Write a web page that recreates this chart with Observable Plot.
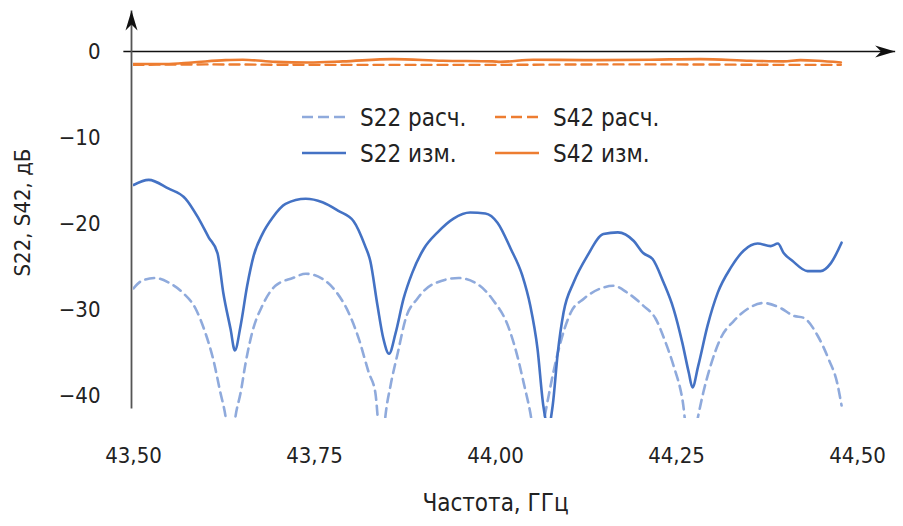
<!DOCTYPE html>
<html><head><meta charset="utf-8">
<script src="https://cdn.jsdelivr.net/npm/d3@7"></script>
<script src="https://cdn.jsdelivr.net/npm/@observablehq/plot@0.6"></script>
<style>
body{margin:0;background:#fff}
#wrap{position:relative;width:903px;height:526px;font-family:"Liberation Sans Narrow","DejaVu Sans Condensed","Roboto Condensed","Liberation Sans",sans-serif;}
#legend{position:absolute;left:0;top:0;pointer-events:none}
</style></head><body>
<div id="wrap"></div>
<script>
// ---- data (frequency, GHz / level, dB) ----
const s22MeasFreq = [43.500,43.521,43.548,43.572,43.590,43.604,43.616,43.624,43.634,43.640,43.648,43.657,43.666,43.678,43.692,43.710,43.738,43.761,43.783,43.804,43.820,43.827,43.837,43.845,43.853,43.862,43.873,43.885,43.901,43.920,43.942,43.965,43.986,44.003,44.021,44.037,44.048,44.058,44.066,44.073,44.079,44.086,44.094,44.108,44.127,44.149,44.169,44.191,44.204,44.217,44.232,44.246,44.258,44.267,44.272,44.280,44.293,44.307,44.325,44.343,44.362,44.380,44.390,44.398,44.410,44.431,44.449,44.463,44.478];
const s22Meas     = [-15.5,-14.9,-15.9,-17.1,-19.4,-21.6,-23.4,-28.0,-32.2,-34.7,-31.8,-27.2,-23.7,-21.2,-19.3,-17.7,-17.1,-17.5,-18.5,-19.7,-22.6,-24.3,-29.5,-33.3,-35.1,-32.7,-28.7,-25.7,-22.9,-21.0,-19.4,-18.7,-18.8,-19.9,-22.9,-26.0,-29.5,-34.5,-41.1,-43.6,-41.1,-35.0,-30.3,-26.8,-23.7,-21.2,-21.0,-22.0,-23.4,-24.1,-26.8,-29.9,-33.8,-37.3,-39.0,-36.5,-31.8,-28.0,-25.1,-23.1,-22.3,-22.6,-22.3,-23.4,-24.3,-25.5,-25.5,-24.6,-22.2];

const s22CalcFreq = [43.500,43.512,43.530,43.548,43.568,43.586,43.599,43.610,43.620,43.627,43.634,43.641,43.648,43.655,43.664,43.678,43.696,43.720,43.738,43.761,43.779,43.797,43.811,43.825,43.834,43.843,43.848,43.855,43.865,43.876,43.892,43.914,43.949,43.975,43.997,44.017,44.030,44.039,44.048,44.058,44.069,44.086,44.104,44.122,44.149,44.163,44.182,44.204,44.221,44.235,44.246,44.258,44.269,44.280,44.287,44.297,44.311,44.329,44.348,44.370,44.394,44.412,44.425,44.445,44.460,44.472,44.478];
const s22Calc     = [-27.5,-26.6,-26.3,-26.8,-28.0,-29.9,-32.6,-35.7,-39.6,-42.3,-47.0,-42.3,-39.6,-36.1,-32.6,-29.5,-27.2,-26.3,-25.8,-26.4,-27.8,-30.3,-33.3,-37.3,-39.6,-47.0,-42.3,-38.8,-35.0,-31.0,-28.7,-27.0,-26.3,-27.0,-28.9,-31.8,-35.3,-38.5,-41.9,-47.0,-41.9,-35.0,-30.3,-28.7,-27.4,-27.2,-28.0,-29.5,-31.0,-33.8,-36.5,-40.3,-47.0,-42.3,-39.6,-36.5,-33.3,-31.3,-29.9,-29.2,-29.8,-30.7,-30.9,-33.0,-35.7,-38.5,-41.1];

const s42MeasFreq = [43.500,43.544,43.581,43.627,43.651,43.696,43.742,43.789,43.858,43.927,43.996,44.007,44.052,44.122,44.214,44.283,44.352,44.398,44.421,44.445,44.477];
const s42Meas     = [-1.45,-1.45,-1.27,-1.0,-0.95,-1.2,-1.27,-1.15,-0.88,-1.07,-1.15,-1.2,-0.95,-1.0,-0.95,-0.88,-1.07,-1.15,-1.0,-1.07,-1.27];

const s42CalcFreq = [43.500,43.600,43.750,43.900,44.000,44.150,44.250,44.400,44.477];
const s42Calc     = [-1.55,-1.50,-1.55,-1.55,-1.55,-1.50,-1.50,-1.55,-1.55];

const seriesNames = ["S22 расч.", "S22 изм.", "S42 расч.", "S42 изм."];
const xTicks = [43.5, 43.75, 44.0, 44.25, 44.5];
const yTicks = [0, -10, -20, -30, -40];
const xLabel = "Частота, ГГц";
const yLabel = "S22, S42, дБ";

// ---- styling ----
const BLUE = "#4472C4", LIGHTBLUE = "#8FAADC", ORANGE = "#ED7D31";
const FONT = '"Liberation Sans Narrow","DejaVu Sans Condensed","Roboto Condensed","Liberation Sans",sans-serif';
const xDomain = [43.5, 44.5], yDomain = [-42.61, 4.76];
const xAxisExtent = [43.486, 44.552];   // drawn axis line incl. arrow
const yAxisExtent = [-41.46, 4.76];

const rows = (f, v) => f.map((x, i) => ({f: x, v: v[i]}));
const fmtX = d => d3.format(".2f")(d).replace(".", ",");

const plot = Plot.plot({
  width: 903, height: 526,
  marginLeft: 133, marginRight: 46, marginTop: 10, marginBottom: 108,
  style: {fontFamily: FONT, fontSize: "22px", color: "#222", background: "white"},
  x: {domain: xDomain},
  y: {domain: yDomain},
  marks: [
    Plot.axisY({ticks: yTicks, tickSize: 0, tickPadding: 33, label: null, fontSize: 22}),
    Plot.axisX({ticks: xTicks, tickSize: 0, tickPadding: 29, tickFormat: fmtX, label: null, fontSize: 22}),
    Plot.link([{x1: xAxisExtent[0], x2: xAxisExtent[1]}], {x1: "x1", x2: "x2", y1: () => 0, y2: () => 0, stroke: "#111", strokeWidth: 1.6}),
    Plot.link([{y1: yAxisExtent[0], y2: yAxisExtent[1]}], {x1: () => xDomain[0], x2: () => xDomain[0], y1: "y1", y2: "y2", stroke: "#555", strokeWidth: 1.8, dx: -2}),
    Plot.line(rows(s22CalcFreq, s22Calc), {x: "f", y: "v", stroke: LIGHTBLUE, strokeWidth: 2.6, strokeDasharray: "9,6", curve: "monotone-x", clip: true}),
    Plot.line(rows(s22MeasFreq, s22Meas), {x: "f", y: "v", stroke: BLUE, strokeWidth: 2.6, curve: "monotone-x", clip: true}),
    Plot.line(rows(s42CalcFreq, s42Calc), {x: "f", y: "v", stroke: ORANGE, strokeWidth: 2.4, strokeDasharray: "10,6", curve: "monotone-x", clip: true}),
    Plot.line(rows(s42MeasFreq, s42Meas), {x: "f", y: "v", stroke: ORANGE, strokeWidth: 2.6, curve: "monotone-x", clip: true}),
    Plot.text([xLabel], {frameAnchor: "bottom", dy: 85, fontSize: 24, lineAnchor: "middle"}),
    Plot.text([yLabel], {frameAnchor: "left", dx: -111, dy: -2, rotate: -90, fontSize: 22, textAnchor: "middle", lineAnchor: "middle"})
  ]
});

// arrowheads on the two axis lines
const svg = d3.select(plot);
const defs = svg.insert("defs", ":first-child");
defs.append("marker").attr("id", "axisArrow")
  .attr("markerUnits", "userSpaceOnUse").attr("viewBox", "-21 -7 22 14")
  .attr("markerWidth", 22).attr("markerHeight", 14).attr("refX", 0).attr("refY", 0)
  .attr("orient", "auto")
  .append("path").attr("d", "M0,0 L-20,-6 L-14,0 L-20,6 Z").attr("fill", "#111");
svg.selectAll('g[aria-label="link"] path').attr("marker-end", "url(#axisArrow)");

const wrap = document.getElementById("wrap");
wrap.appendChild(plot);

// legend overlay (2 x 2)
const legendItems = [
  {name: seriesNames[0], color: LIGHTBLUE, dash: "11,5", col: 0, row: 0},
  {name: seriesNames[1], color: BLUE, dash: null, col: 0, row: 1},
  {name: seriesNames[2], color: ORANGE, dash: "11,5", col: 1, row: 0},
  {name: seriesNames[3], color: ORANGE, dash: null, col: 1, row: 1}
];
const lg = d3.select(wrap).append("svg").attr("id", "legend").attr("width", 903).attr("height", 526);
const colX = [302, 495], rowY = [117, 153];
for (const it of legendItems) {
  const g = lg.append("g").attr("transform", `translate(${colX[it.col]},${rowY[it.row]})`);
  g.append("line").attr("x1", 0).attr("x2", 44).attr("y1", 0).attr("y2", 0)
    .attr("stroke", it.color).attr("stroke-width", 2.6).attr("stroke-dasharray", it.dash);
  g.append("text").attr("x", 58).attr("y", 0).attr("dy", "0.36em")
    .attr("font-family", FONT).attr("font-size", 24).attr("fill", "#222").text(it.name);
}
</script>
</body></html>
